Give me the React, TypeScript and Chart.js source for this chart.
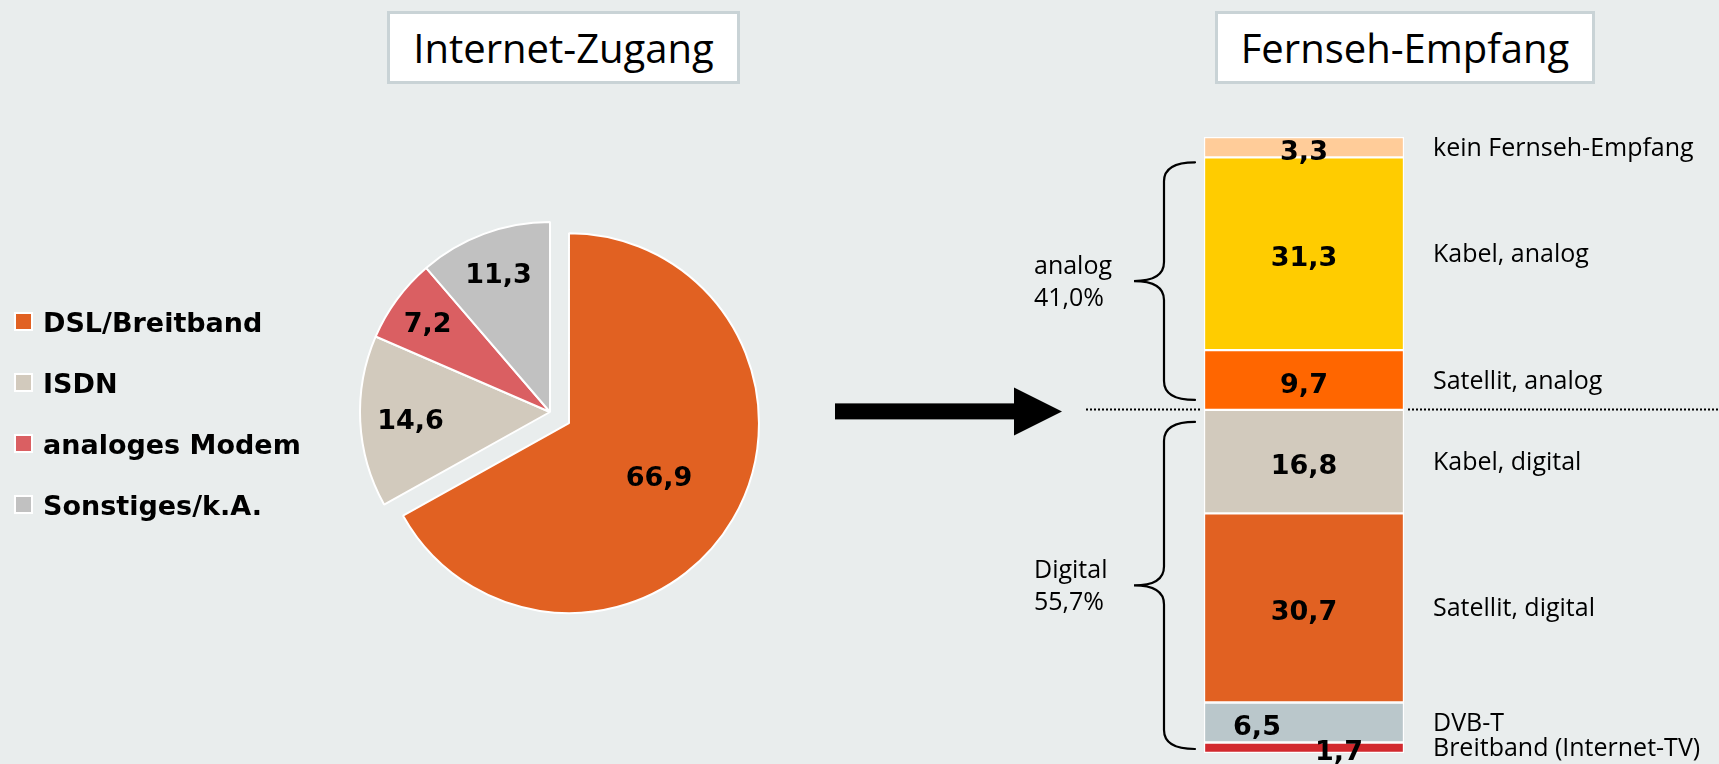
import React, { useEffect, useRef } from "react";
import { Chart, registerables } from "chart.js";

Chart.register(...registerables);

// ---------- data ----------
const pieTitle = "Internet-Zugang";
const pieCategories = ["DSL/Breitband", "ISDN", "analoges Modem", "Sonstiges/k.A."];
const pieValues = [66.9, 14.6, 7.2, 11.3];

const barTitle = "Fernseh-Empfang";
// listed from top of the stacked bar to bottom
const barCategories = [
  "kein Fernseh-Empfang",
  "Kabel, analog",
  "Satellit, analog",
  "Kabel, digital",
  "Satellit, digital",
  "DVB-T",
  "Breitband (Internet-TV)",
];
const barValues = [3.3, 31.3, 9.7, 16.8, 30.7, 6.5, 1.7];
const groupNames = ["analog", "Digital"];
const groupMembers = [
  [1, 2],
  [3, 4, 5, 6],
];

// ---------- styles ----------
const BG = "#e9eded";
const pieColors = ["#e16122", "#d2cabd", "#da5f62", "#c1c1c1"];
const barColors = ["#ffcc99", "#ffcc00", "#ff6600", "#d2cabd", "#e16122", "#bac7cb", "#d2292e"];
const PIE_EXPLODE = [22, 0, 0, 0];
const PIE_LABEL_RADIUS = [0.55, 0.735, 0.8, 0.78];
const BAR_LABEL_DX = [0, 0, 0, 0, 0, -47, 35];
const BRACE_INSETS = [
  [5, 10],
  [12, 4],
];
const BOLD = "bold 27px 'DejaVu Sans'";
const REG = "25px 'Open Sans'";

const fmt = (v: number) => v.toFixed(1).replace(".", ",");

function PieChart() {
  const ref = useRef<HTMLCanvasElement>(null);
  useEffect(() => {
    const explode = {
      id: "explode",
      afterDatasetUpdate(_chart: any, args: any) {
        args.meta.data.forEach((el: any, i: number) => {
          const d = PIE_EXPLODE[i];
          if (!d) return;
          const mid = (el.startAngle + el.endAngle) / 2;
          el.x += Math.cos(mid) * d;
          el.y += Math.sin(mid) * d;
        });
      },
    };
    const labels = {
      id: "pieLabels",
      afterDatasetsDraw(chart: any) {
        const ctx = chart.ctx;
        const meta = chart.getDatasetMeta(0);
        ctx.save();
        ctx.font = BOLD;
        ctx.fillStyle = "#000";
        ctx.textAlign = "center";
        ctx.textBaseline = "alphabetic";
        meta.data.forEach((el: any, i: number) => {
          const mid = (el.startAngle + el.endAngle) / 2;
          const r = el.outerRadius * PIE_LABEL_RADIUS[i];
          const x = el.x + Math.cos(mid) * r;
          const y = el.y + Math.sin(mid) * r;
          ctx.fillText(fmt(pieValues[i]), x, y + 10);
        });
        ctx.restore();
      },
    };
    const chart = new Chart(ref.current!, {
      type: "pie",
      data: {
        labels: pieCategories,
        datasets: [
          {
            data: pieValues,
            backgroundColor: pieColors,
            borderColor: "#ffffff",
            borderWidth: 2,
          },
        ],
      },
      options: {
        responsive: false,
        maintainAspectRatio: false,
        animation: false,
        radius: 190,
        layout: { padding: { left: 320, right: 20, top: 80, bottom: 20 } },
        plugins: { legend: { display: false }, tooltip: { enabled: false } },
      } as any,
      plugins: [explode, labels],
    });
    return () => chart.destroy();
  }, []);
  return (
    <canvas
      ref={ref}
      width={800}
      height={764}
      style={{ position: "absolute", left: 0, top: 0, width: 800, height: 764 }}
    />
  );
}

function BarChart() {
  const ref = useRef<HTMLCanvasElement>(null);
  useEffect(() => {
    const n = barValues.length;
    const order = barValues.map((_, i) => n - 1 - i); // bottom first
    const deco = {
      id: "tvDeco",
      afterDatasetsDraw(chart: any) {
        const ctx = chart.ctx;
        const area = chart.chartArea;
        const seg: { top: number; bottom: number; x: number }[] = [];
        order.forEach((catIdx, dsIdx) => {
          const el = chart.getDatasetMeta(dsIdx).data[0];
          seg[catIdx] = { top: Math.min(el.y, el.base), bottom: Math.max(el.y, el.base), x: el.x };
        });
        ctx.save();
        // value labels and category labels
        for (let i = 0; i < n; i++) {
          const s = seg[i];
          const cy = (s.top + s.bottom) / 2;
          ctx.font = BOLD;
          ctx.fillStyle = "#000";
          ctx.textAlign = "center";
          ctx.textBaseline = "alphabetic";
          ctx.fillText(fmt(barValues[i]), s.x + BAR_LABEL_DX[i], cy + 12.5);
          ctx.font = REG;
          ctx.textAlign = "left";
          ctx.fillText(barCategories[i], area.right + 29, cy + 8.5);
        }
        // braces and group labels
        ctx.strokeStyle = "#000";
        ctx.lineWidth = 2.2;
        ctx.lineCap = "round";
        const xr = area.left - 9;
        const xm = area.left - 40;
        const xl = area.left - 70;
        const rr = 19;
        const bounds: number[] = [];
        groupMembers.forEach((members, g) => {
          const top = Math.min(...members.map((m) => seg[m].top));
          const bottom = Math.max(...members.map((m) => seg[m].bottom));
          bounds.push(top, bottom);
          const t = top + BRACE_INSETS[g][0];
          const b = bottom - BRACE_INSETS[g][1];
          const mid = (t + b) / 2;
          ctx.beginPath();
          ctx.moveTo(xr, t);
          ctx.quadraticCurveTo(xm, t, xm, t + rr);
          ctx.lineTo(xm, mid - rr);
          ctx.quadraticCurveTo(xm, mid, xl, mid);
          ctx.quadraticCurveTo(xm, mid, xm, mid + rr);
          ctx.lineTo(xm, b - rr);
          ctx.quadraticCurveTo(xm, b, xr, b);
          ctx.stroke();
          const total = members.reduce((a, m) => a + barValues[m], 0);
          ctx.font = REG;
          ctx.textAlign = "left";
          ctx.fillText(groupNames[g], area.left - 170, mid - 7);
          ctx.fillText(fmt(total) + "%", area.left - 170, mid + 24.5);
        });
        // dotted separator between analog and digital
        const sepY = bounds[1] - 0.5;
        ctx.setLineDash([2, 2]);
        ctx.lineWidth = 2;
        ctx.lineCap = "butt";
        ctx.beginPath();
        ctx.moveTo(area.left - 118, sepY);
        ctx.lineTo(area.left - 3, sepY);
        ctx.moveTo(area.right + 4, sepY);
        ctx.lineTo(chart.width, sepY);
        ctx.stroke();
        ctx.setLineDash([]);
        // arrow
        const ay = sepY + 2;
        ctx.fillStyle = "#000";
        ctx.fillRect(area.left - 369, ay - 8, 180, 16);
        ctx.beginPath();
        ctx.moveTo(area.left - 190, ay - 24);
        ctx.lineTo(area.left - 142, ay);
        ctx.lineTo(area.left - 190, ay + 24);
        ctx.closePath();
        ctx.fill();
        ctx.restore();
      },
    };
    const chart = new Chart(ref.current!, {
      type: "bar",
      data: {
        labels: [barTitle],
        datasets: order.map((i) => ({
          label: barCategories[i],
          data: [barValues[i]],
          backgroundColor: barColors[i],
          borderColor: "#ffffff",
          borderWidth: 1.5,
          borderSkipped: false,
          categoryPercentage: 1,
          barPercentage: 1,
        })),
      },
      options: {
        responsive: false,
        maintainAspectRatio: false,
        animation: false,
        layout: { padding: { left: 404, right: 315, top: 137, bottom: 11 } },
        plugins: { legend: { display: false }, tooltip: { enabled: false } },
        scales: {
          x: { display: false, stacked: true },
          y: { display: false, stacked: true, min: 0, max: 100 },
        },
      } as any,
      plugins: [deco],
    });
    return () => chart.destroy();
  }, []);
  return (
    <canvas
      ref={ref}
      width={919}
      height={764}
      style={{ position: "absolute", left: 800, top: 0, width: 919, height: 764 }}
    />
  );
}

function TitleBox({ text, left, width }: { text: string; left: number; width: number }) {
  return (
    <div
      style={{
        position: "absolute",
        left,
        top: 11,
        width,
        height: 73,
        boxSizing: "border-box",
        border: "3px solid #c9d3d6",
        background: "#ffffff",
        display: "flex",
        alignItems: "center",
        justifyContent: "center",
        fontFamily: "'Open Sans'",
        fontSize: 40,
        color: "#000",
        lineHeight: 1,
      }}
    >
      {text}
    </div>
  );
}

export default function App() {
  return (
    <div
      style={{
        position: "fixed",
        left: 0,
        top: 0,
        width: 1719,
        height: 764,
        background: BG,
        overflow: "hidden",
      }}
    >
      <PieChart />
      <BarChart />
      <TitleBox text={pieTitle} left={387} width={353} />
      <TitleBox text={barTitle} left={1215} width={380} />
      {pieCategories.map((c, i) => (
        <React.Fragment key={c}>
          <div
            style={{
              position: "absolute",
              left: 13.5,
              top: 311.5 + i * 61.1,
              width: 19,
              height: 19,
              boxSizing: "border-box",
              border: "2px solid #ffffff",
              background: pieColors[i],
            }}
          />
          <div
            style={{
              position: "absolute",
              left: 43,
              top: 308.7 + i * 61.1,
              fontFamily: "'DejaVu Sans'",
              fontWeight: "bold",
              fontSize: 27,
              lineHeight: "27px",
              color: "#000",
              whiteSpace: "nowrap",
            }}
          >
            {c}
          </div>
        </React.Fragment>
      ))}
    </div>
  );
}
